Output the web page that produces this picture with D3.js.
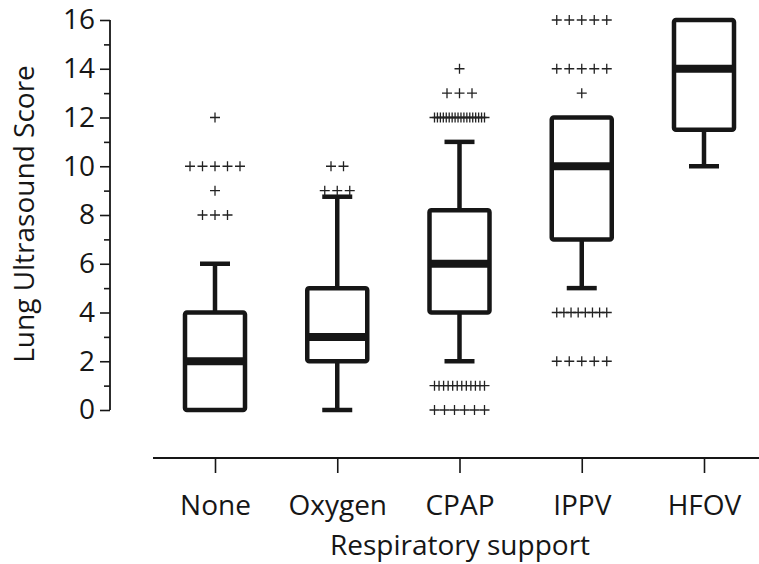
<!DOCTYPE html>
<html>
<head>
<meta charset="utf-8">
<script src="https://cdn.jsdelivr.net/npm/d3@7"></script>
<style>
  html, body { margin: 0; padding: 0; background: #fff; }
  svg { display: block; font-family: "Open Sans", sans-serif; }
</style>
</head>
<body>
<svg id="chart" width="759" height="564"></svg>
<script>
// ---- data ----
const categories = ["None", "Oxygen", "CPAP", "IPPV", "HFOV"];
const q1Values = [0, 2, 4, 7, 11.5];
const medianValues = [2, 3, 6, 10, 14];
const q3Values = [4, 5, 8.2, 12, 16];
const whiskerLow = [0, 0, 2, 5, 10];
const whiskerHigh = [6, 8.75, 11, 12, 16];
// outliers: [value, count] for each category
const outliersNone = [[8, 3], [9, 1], [10, 5], [12, 1]];
const outliersOxygen = [[9, 3], [10, 2]];
const outliersCPAP = [[0, 6], [1, 12], [12, 18], [13, 3], [14, 1]];
const outliersIPPV = [[2, 5], [4, 8], [13, 1], [14, 5], [16, 5]];
const outliersHFOV = [];
const outlierSets = [outliersNone, outliersOxygen, outliersCPAP, outliersIPPV, outliersHFOV];
const yTickValues = [0, 2, 4, 6, 8, 10, 12, 14, 16];
const yMinorTicks = [1, 3, 5, 7, 9, 11, 13, 15];
const xTitle = "Respiratory support";
const yTitle = "Lung Ultrasound Score";

// ---- layout ----
const svg = d3.select("#chart");
const ink = "#161616";
const y = d3.scaleLinear().domain([0, 16]).range([410, 20]);
const x = d3.scalePoint().domain(categories).range([215, 704]);

// y axis
const yAxisG = svg.append("g").attr("transform", "translate(110,0)");
yAxisG.call(d3.axisLeft(y).tickValues(yTickValues).tickSize(10).tickPadding(5).tickFormat(d3.format("d")));
const yMinor = svg.append("g").attr("transform", "translate(110,0)");
yMinor.call(d3.axisLeft(y).tickValues(yMinorTicks).tickSize(6).tickFormat(""));
yMinor.select(".domain").remove();
[yAxisG, yMinor].forEach(g => {
  g.selectAll(".domain").attr("stroke", ink).attr("stroke-width", 1.8).attr("d", "M0,20V410");
  g.selectAll(".tick line").attr("stroke", ink).attr("stroke-width", 1.6);
  g.selectAll(".tick text").attr("fill", ink).style("font-size", "28px").style("font-family", "Open Sans");
});

// x axis
const xAxisG = svg.append("g").attr("transform", "translate(0,458)");
xAxisG.call(d3.axisBottom(x).tickSize(15).tickPadding(22));
xAxisG.select(".domain").attr("stroke", ink).attr("stroke-width", 1.8).attr("d", "M153,0H759");
xAxisG.selectAll(".tick line").attr("stroke", ink).attr("stroke-width", 1.6);
xAxisG.selectAll(".tick text").attr("fill", ink).style("font-size", "28px").style("font-family", "Open Sans");

// titles
svg.append("text").attr("x", 460).attr("y", 555).attr("text-anchor", "middle")
  .attr("fill", ink).style("font-size", "28px").text(xTitle);
svg.append("text").attr("transform", "translate(34,214) rotate(-90)").attr("text-anchor", "middle")
  .attr("fill", ink).style("font-size", "28px").text(yTitle);

// boxes
const boxW = 60, capW = 30;
const groups = svg.append("g").selectAll("g").data(categories).join("g")
  .attr("transform", d => `translate(${x(d)},0)`);

// whiskers
groups.append("line").attr("x1", 0).attr("x2", 0)
  .attr("y1", (d, i) => y(q3Values[i])).attr("y2", (d, i) => y(whiskerHigh[i]))
  .attr("stroke", ink).attr("stroke-width", 4.5);
groups.append("line").attr("x1", 0).attr("x2", 0)
  .attr("y1", (d, i) => y(q1Values[i])).attr("y2", (d, i) => y(whiskerLow[i]))
  .attr("stroke", ink).attr("stroke-width", 4.5);
groups.filter((d, i) => whiskerHigh[i] > q3Values[i]).append("line")
  .attr("x1", -capW / 2).attr("x2", capW / 2)
  .attr("y1", d => y(whiskerHigh[categories.indexOf(d)])).attr("y2", d => y(whiskerHigh[categories.indexOf(d)]))
  .attr("stroke", ink).attr("stroke-width", 4.5);
groups.filter((d, i) => whiskerLow[i] < q1Values[i]).append("line")
  .attr("x1", -capW / 2).attr("x2", capW / 2)
  .attr("y1", d => y(whiskerLow[categories.indexOf(d)])).attr("y2", d => y(whiskerLow[categories.indexOf(d)]))
  .attr("stroke", ink).attr("stroke-width", 4.5);

// box
groups.append("rect").attr("x", -boxW / 2).attr("width", boxW)
  .attr("y", (d, i) => y(q3Values[i])).attr("height", (d, i) => y(q1Values[i]) - y(q3Values[i]))
  .attr("fill", "#fff").attr("stroke", ink).attr("stroke-width", 4.5)
  .attr("rx", 2).attr("stroke-linejoin", "round");
// median
groups.append("line").attr("x1", -boxW / 2).attr("x2", boxW / 2)
  .attr("y1", (d, i) => y(medianValues[i])).attr("y2", (d, i) => y(medianValues[i]))
  .attr("stroke", ink).attr("stroke-width", 8);

// outliers as "+" marks spread horizontally
const crossHalf = 5;
groups.each(function (d, i) {
  const g = d3.select(this);
  const pts = [];
  outlierSets[i].forEach(([v, n]) => {
    const span = Math.min((n - 1) * 12.5, 50);
    for (let k = 0; k < n; k++) {
      const dx = n === 1 ? 0 : -span / 2 + span * k / (n - 1);
      pts.push({ dx, v });
    }
  });
  g.selectAll("path.out").data(pts).join("path").attr("class", "out")
    .attr("d", p => `M${p.dx - crossHalf},${y(p.v)}H${p.dx + crossHalf}M${p.dx},${y(p.v) - crossHalf}V${y(p.v) + crossHalf}`)
    .attr("stroke", "#222").attr("stroke-width", 1.3).attr("fill", "none");
});
</script>
</body>
</html>
